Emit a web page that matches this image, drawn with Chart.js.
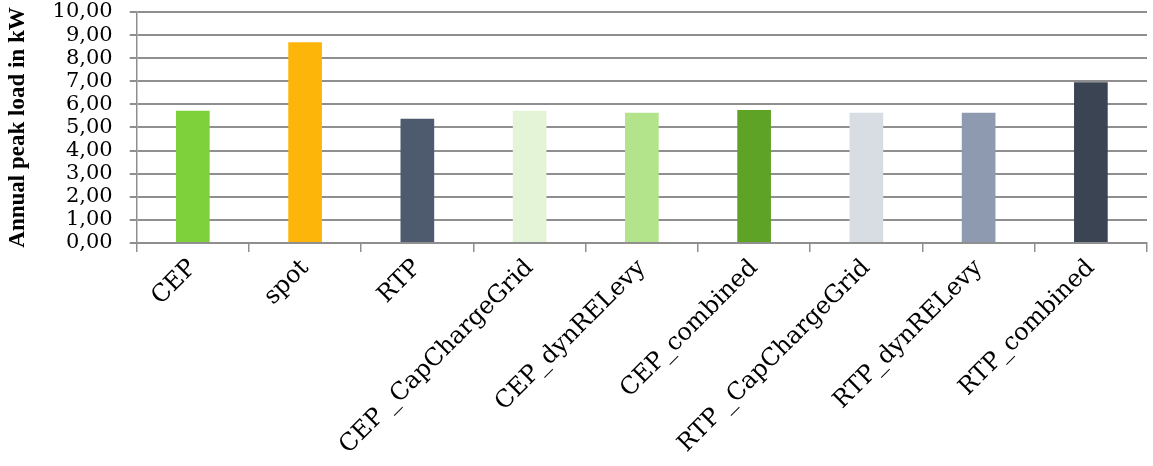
<!DOCTYPE html>
<html>
<head>
<meta charset="utf-8">
<script src="https://cdn.jsdelivr.net/npm/chart.js@4"></script>
<style>
  html, body { margin: 0; padding: 0; background: #fff; }
  #wrap { width: 1153px; height: 466px; }
</style>
</head>
<body>
<div id="wrap"><canvas id="myChart"></canvas></div>
<script>
const categories = ["CEP", "spot", "RTP", "CEP _CapChargeGrid", "CEP_dynRELevy", "CEP_combined", "RTP _CapChargeGrid", "RTP_dynRELevy", "RTP_combined"];
const peakLoad = [5.72, 8.69, 5.38, 5.72, 5.64, 5.76, 5.64, 5.64, 6.96];
const barColors = ["#7FD13B", "#FEB50A", "#4E5B6F", "#E3F4D7", "#B3E38A", "#5EA226", "#D8DCE3", "#8E9AB0", "#3B4453"];

const FONT = "'DejaVu Serif', 'Liberation Serif', serif";
const GRID = "#8f8f8f";

function getChart() {
    var ctx = document.getElementById("myChart");
    var chartData = {
        labels: categories,
        datasets: [{
            label: "Annual peak load in kW",
            data: peakLoad,
            backgroundColor: barColors,
            borderWidth: 0,
            barPercentage: 0.3,
            categoryPercentage: 1
        }]
    };

    var chartOptions = {
        responsive: true,
        maintainAspectRatio: false,
        animation: false,
        layout: { padding: { top: 4, right: 6, left: 4, bottom: 4 } },
        plugins: {
            legend: { display: false },
            tooltip: { enabled: false }
        },
        scales: {
            x: {
                grid: {
                    offset: true,
                    drawOnChartArea: false,
                    drawTicks: true,
                    tickLength: 9,
                    color: GRID,
                    lineWidth: 1.5
                },
                border: { color: GRID, width: 2 },
                ticks: {
                    autoSkip: false,
                    maxRotation: 45,
                    minRotation: 45,
                    color: "#000",
                    padding: 2,
                    font: { family: FONT, size: 24 }
                }
            },
            y: {
                min: 0,
                max: 10,
                // tick padding also gets added above the axis; keep only half a label
                afterFit: scale => { scale.paddingTop = 12; scale.paddingBottom = 12; },
                grid: {
                    color: GRID,
                    lineWidth: 2,
                    tickLength: 7
                },
                border: { color: GRID, width: 1.5 },
                ticks: {
                    stepSize: 1,
                    autoSkip: false,
                    color: "#000",
                    padding: 17,
                    font: { family: FONT, size: 21 },
                    callback: v => v.toFixed(2).replace(".", ",")
                },
                title: {
                    display: true,
                    text: "Annual peak load in kW",
                    color: "#000",
                    padding: { top: 0, bottom: 4 },
                    font: { family: "'Liberation Serif', serif", size: 23, weight: "bold" }
                }
            }
        }
    };

    new Chart(ctx, {
        type: "bar",
        data: chartData,
        options: chartOptions
    });
}

getChart();
</script>
</body>
</html>
